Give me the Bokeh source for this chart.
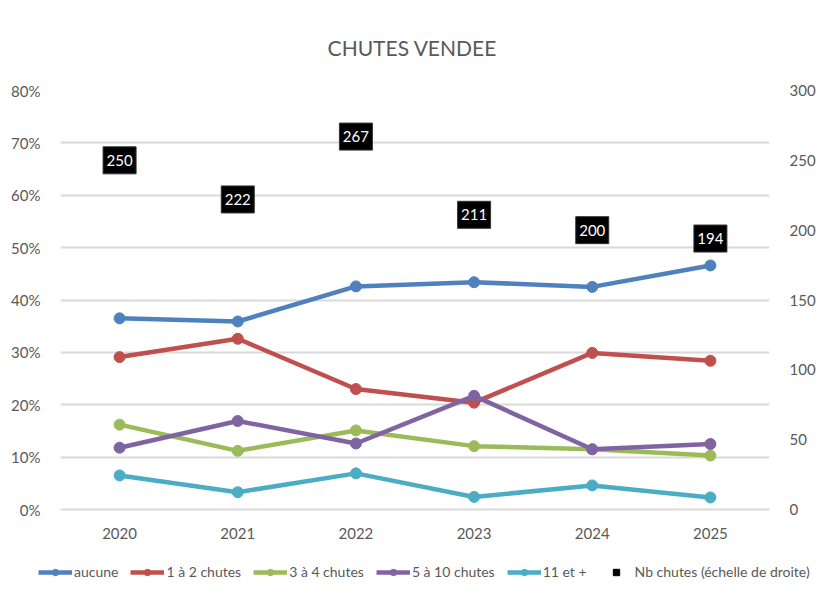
from bokeh.plotting import figure
from bokeh.layouts import column
from bokeh.models import (Range1d, LinearAxis, NumeralTickFormatter, Legend, LegendItem,
                          ColumnDataSource, FixedTicker, FactorRange)
from bokeh.embed import file_html
from bokeh.resources import INLINE
from bokeh.core.properties import value

years = ["2020", "2021", "2022", "2023", "2024", "2025"]
aucune = [0.365, 0.359, 0.426, 0.434, 0.425, 0.466]
un_deux = [0.291, 0.326, 0.230, 0.204, 0.299, 0.284]
trois_quatre = [0.162, 0.112, 0.151, 0.121, 0.115, 0.103]
cinq_dix = [0.118, 0.169, 0.126, 0.217, 0.115, 0.125]
onze_plus = [0.065, 0.033, 0.069, 0.024, 0.046, 0.023]
nb_chutes = [250, 222, 267, 211, 200, 194]

series_names = ["aucune", "1 à 2 chutes", "3 à 4 chutes", "5 à 10 chutes", "11 et +"]
series_values = [aucune, un_deux, trois_quatre, cinq_dix, onze_plus]
colors = ["#4f81bd", "#c0504d", "#9bbb59", "#8064a2", "#4bacc6"]
nb_label = "Nb chutes (échelle de droite)"

FONT = "Lato"
GREY = "#595959"

p = figure(x_range=FactorRange(*years), y_range=Range1d(0, 0.8),
           width=820, height=550, output_backend="svg", toolbar_location=None,
           min_border_left=60, min_border_right=51, min_border_top=90, min_border_bottom=41)
p.extra_y_ranges = {"right": Range1d(0, 300)}

p.title.text = "CHUTES  VENDEE"
p.title.align = "center"
p.title.text_font = FONT
p.title.text_font_size = "21px"
p.title.text_font_style = "normal"
p.title.text_color = GREY
p.title.standoff = 62
p.title.offset = 3

p.outline_line_color = None
p.xgrid.grid_line_color = None
p.ygrid.grid_line_color = "#d9d9d9"
p.ygrid.grid_line_width = 2
p.ygrid.ticker = FixedTicker(ticks=[i / 10 for i in range(9)])

yl = p.yaxis[0]
yl.ticker = FixedTicker(ticks=[i / 10 for i in range(9)])
yl.formatter = NumeralTickFormatter(format="0%")
yl.axis_line_color = None
yl.major_tick_line_color = None
yl.minor_tick_line_color = None
yl.major_label_text_font = FONT
yl.major_label_text_font_size = "15px"
yl.major_label_text_color = GREY
yl.major_label_standoff = 14

yr = LinearAxis(y_range_name="right", ticker=FixedTicker(ticks=list(range(0, 301, 50))))
yr.axis_line_color = None
yr.major_tick_line_color = None
yr.minor_tick_line_color = None
yr.major_label_text_font = FONT
yr.major_label_text_font_size = "15px"
yr.major_label_text_color = GREY
yr.major_label_standoff = 14
p.add_layout(yr, "right")

xa = p.xaxis[0]
xa.axis_line_color = "#d9d9d9"
xa.axis_line_width = 2
xa.major_tick_line_color = None
xa.minor_tick_line_color = None
xa.major_label_text_font = FONT
xa.major_label_text_font_size = "15px"
xa.major_label_text_color = GREY
xa.major_label_standoff = 12

for name, vals, c in zip(series_names, series_values, colors):
    src = ColumnDataSource(dict(x=years, y=vals))
    p.line("x", "y", source=src, line_color=c, line_width=4.5)
    p.scatter("x", "y", source=src, size=11, fill_color=c, line_color=c)

nb_src = ColumnDataSource(dict(x=years, y=nb_chutes, t=[str(v) for v in nb_chutes]))
p.rect("x", "y", source=nb_src, y_range_name="right", width=33, height=27,
       width_units="screen", height_units="screen", fill_color="black", line_color="#333333")
p.text("x", "y", text="t", source=nb_src, y_range_name="right", text_color="white",
       text_font=value(FONT), text_font_size="15px", text_align="center", text_baseline="middle")

# legend strip below the chart
lg = figure(width=820, height=44, x_range=Range1d(0, 1), y_range=Range1d(0, 1),
            x_axis_type=None, y_axis_type=None, output_backend="svg", toolbar_location=None,
            min_border=0)
lg.outline_line_color = None
lg.grid.grid_line_color = None
for fig in (p, lg):
    if "frame_align" in fig.properties():
        fig.frame_align = False
items = []
nan = float("nan")
for name, c in zip(series_names, colors):
    l = lg.line(x=[nan], y=[nan], line_color=c, line_width=4.5)
    s = lg.scatter(x=[nan], y=[nan], size=11, fill_color=c, line_color=c)
    items.append(LegendItem(label=name, renderers=[l, s]))
sq = lg.scatter(x=[nan], y=[nan], marker="square", size=9, fill_color="black", line_color="black")
items.append(LegendItem(label=nb_label, renderers=[sq]))

leg = Legend(items=items, orientation="horizontal", location=(38, 14))
leg.label_text_font = FONT
leg.label_text_font_size = "14px"
leg.label_text_color = GREY
leg.glyph_width = 34
leg.glyph_height = 16
leg.label_standoff = 2
leg.spacing = 12
leg.padding = 2
leg.margin = 0
leg.border_line_color = None
leg.background_fill_alpha = 0
lg.add_layout(leg, "center")

layout = column(p, lg, spacing=0)
open("out.html", "w").write(file_html(layout, INLINE))
